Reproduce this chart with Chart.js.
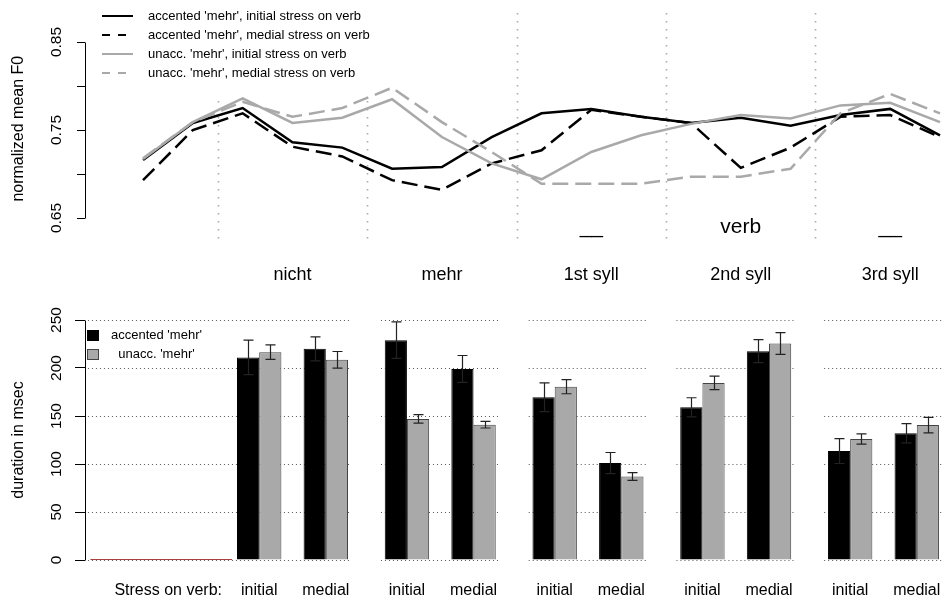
<!DOCTYPE html>
<html>
<head>
<meta charset="utf-8">
<title>F0 and duration of 'nicht mehr' + verb</title>
<script src="https://cdn.jsdelivr.net/npm/chart.js@4/dist/chart.umd.min.js"></script>
<style>
  html, body { margin: 0; padding: 0; background: #fff; }
  #wrap { position: relative; width: 942px; height: 603px; }
  #wrap canvas { position: absolute; left: 0; }
  #f0 { top: 0; }
  #dur { top: 300px; }
</style>
</head>
<body>
<div id="wrap">
  <canvas id="f0" width="942" height="300"></canvas>
  <canvas id="dur" width="942" height="303"></canvas>
</div>
<script>
// ---- data -------------------------------------------------------------
// words of the utterance, shared by both panels
const words = ['nicht', 'mehr', '1st syll', '2nd syll', '3rd syll'];
const stressLabels = ['initial', 'medial'];
const stressTitle = 'Stress on verb:';

// normalized mean F0: two lead-in samples, then three samples per word
const f0AccInitial = [0.716, 0.758, 0.775, 0.736, 0.730, 0.706, 0.708, 0.742, 0.769, 0.774, 0.765, 0.758, 0.764, 0.755, 0.767, 0.774, 0.744];
const f0AccMedial  = [0.693, 0.750, 0.769, 0.731, 0.720, 0.693, 0.682, 0.712, 0.727, 0.773, 0.765, 0.758, 0.707, 0.730, 0.765, 0.767, 0.742];
const f0UnaInitial = [0.717, 0.759, 0.786, 0.758, 0.764, 0.785, 0.742, 0.712, 0.694, 0.725, 0.744, 0.757, 0.767, 0.763, 0.778, 0.781, 0.759];
const f0UnaMedial  = [0.718, 0.759, 0.782, 0.765, 0.775, 0.798, 0.759, 0.725, 0.689, 0.689, 0.689, 0.697, 0.697, 0.706, 0.769, 0.791, 0.769];
const f0Labels = [
  "accented 'mehr', initial stress on verb",
  "accented 'mehr', medial stress on verb",
  "unacc. 'mehr', initial stress on verb",
  "unacc. 'mehr', medial stress on verb"
];
const f0Ticks = [0.65, 0.70, 0.75, 0.80, 0.85];
const f0TickLabels = ['0.65', '', '0.75', '', '0.85'];
const verbMarks = ['__', 'verb', '__'];   // over the three verb syllables
const verbMarkLevel = 0.639;

// durations in ms, word by word: [initial, medial]
const durAccented = [211, 220, 229, 199, 169.5, 101, 159, 217.5, 113.5, 132];
const durUnacc    = [216.5, 208.5, 147, 141, 180.5, 87, 184.5, 225.5, 126, 140.5];
const seAccented  = [18, 12.5, 19, 14, 15, 11, 10, 12, 13, 10];
const seUnacc     = [7.5, 8.7, 4.5, 3.5, 7.3, 4, 7, 11.3, 5.4, 8];
const durLabels   = ["accented 'mehr'", "  unacc. 'mehr'"];
const durTicks    = [0, 50, 100, 150, 200, 250];

// ---- shared look ------------------------------------------------------
Chart.defaults.font.family = "'Liberation Sans', Arial, Helvetica, sans-serif";
Chart.defaults.color = '#000';
const INK = '#000000';
const GREY = '#a9a9a9';
const AXIS_X_LABEL = 56.5;   // centre of the rotated tick labels

// draws an R-style left axis line between the first and last tick plus rotated labels
function drawLeftAxis(chart, ticks, labels) {
  const {ctx, chartArea: a, scales: {y}} = chart;
  ctx.save();
  ctx.strokeStyle = '#000';
  ctx.lineWidth = 1;
  ctx.beginPath();
  const x = Math.round(a.left) + 0.5;
  ctx.moveTo(x, Math.round(y.getPixelForValue(ticks[0])) + 0.5);
  ctx.lineTo(x, Math.round(y.getPixelForValue(ticks[ticks.length - 1])) + 0.5);
  ctx.stroke();
  ctx.fillStyle = '#000';
  ctx.font = "15.5px 'Liberation Sans', Arial, sans-serif";
  ctx.textAlign = 'center';
  ctx.textBaseline = 'middle';
  ticks.forEach((v, i) => {
    if (!labels[i]) return;
    ctx.save();
    ctx.translate(AXIS_X_LABEL, y.getPixelForValue(v));
    ctx.rotate(-Math.PI / 2);
    ctx.fillText(labels[i], 0, 0);
    ctx.restore();
  });
  ctx.restore();
}

// keep the plotting area fixed: no extra side padding for edge labels
function fixHorizontal(height) {
  return s => { s.height = height; s.paddingLeft = 0; s.paddingRight = 0; };
}

// ---- upper panel: F0 contours -----------------------------------------
const LEAD = 2, PER_WORD = 3;
const wordCentre = i => LEAD + PER_WORD * i + 1;
const wordEdge = i => LEAD + PER_WORD * i - 0.5;

const f0Series = [f0AccInitial, f0AccMedial, f0UnaInitial, f0UnaMedial];
const f0Styles = [
  {color: INK, dash: []},
  {color: INK, dash: [16, 7]},
  {color: GREY, dash: []},
  {color: GREY, dash: [16, 7]}
];

const f0Decor = {
  id: 'f0Decor',
  beforeDatasetsDraw(chart) {
    const {ctx, chartArea: a, scales: {x}} = chart;
    ctx.save();
    // dotted word boundaries
    ctx.strokeStyle = '#aaaaaa';
    ctx.lineWidth = 1.6;
    ctx.setLineDash([1.6, 6.4]);
    words.forEach((_, i) => {
      const px = Math.round(x.getPixelForValue(wordEdge(i))) + 0.5;
      ctx.beginPath();
      ctx.moveTo(px, a.top);
      ctx.lineTo(px, a.bottom);
      ctx.stroke();
    });
    ctx.setLineDash([]);
    // legend panel
    ctx.fillStyle = '#fff';
    ctx.fillRect(a.left + 1, 0, 300, 97);
    ctx.font = "13px 'Liberation Sans', Arial, sans-serif";
    ctx.textAlign = 'left';
    ctx.textBaseline = 'middle';
    chart.data.datasets.forEach((ds, i) => {
      const ry = 16 + 19 * i;
      ctx.strokeStyle = ds.borderColor;
      ctx.lineWidth = 2;
      ctx.setLineDash(ds.borderDash.length ? [8, 8] : []);
      ctx.beginPath();
      ctx.moveTo(a.left + 17, ry);
      ctx.lineTo(a.left + 48, ry);
      ctx.stroke();
      ctx.setLineDash([]);
      ctx.fillStyle = '#000';
      ctx.fillText(ds.label, a.left + 63, ry);
    });
    ctx.restore();
  },
  afterDraw(chart) {
    drawLeftAxis(chart, f0Ticks, f0TickLabels);
    const {ctx, scales: {x, y}} = chart;
    ctx.save();
    ctx.fillStyle = '#000';
    ctx.font = "21px 'Liberation Sans', Arial, sans-serif";
    ctx.textAlign = 'center';
    ctx.textBaseline = 'middle';
    verbMarks.forEach((t, j) => {
      ctx.fillText(t, x.getPixelForValue(wordCentre(2 + j)), y.getPixelForValue(verbMarkLevel));
    });
    ctx.restore();
  }
};

new Chart(document.getElementById('f0'), {
  type: 'line',
  data: {
    datasets: f0Series.map((vals, s) => ({
      label: f0Labels[s],
      data: vals.map((v, i) => ({x: i, y: v})),
      borderColor: f0Styles[s].color,
      borderDash: f0Styles[s].dash,
      borderWidth: 2.5,
      pointRadius: 0,
      tension: 0,
      fill: false,
      order: f0Series.length - s
    }))
  },
  options: {
    responsive: false,
    animation: false,
    devicePixelRatio: 1,
    layout: {padding: {top: 13, left: 0, right: 0, bottom: 0}},
    plugins: {legend: {display: false}, tooltip: {enabled: false}},
    scales: {
      x: {
        type: 'linear',
        min: -1.165,
        max: 16.04,
        offset: false,
        grid: {display: false, drawTicks: false},
        border: {display: false},
        afterBuildTicks: s => { s.ticks = words.map((_, i) => ({value: wordCentre(i)})); },
        afterFit: fixHorizontal(55.6),
        ticks: {autoSkip: false, maxRotation: 0, minRotation: 0, padding: 20,
                font: {size: 18}, color: '#000', callback: (v, i) => words[i]}
      },
      y: {
        min: 0.62,
        max: 0.883,
        afterBuildTicks: s => { s.ticks = f0Ticks.map(v => ({value: v})); },
        afterFit: s => { s.width = 85; },
        grid: {drawOnChartArea: false, drawTicks: true, tickLength: 8, color: '#000', lineWidth: 1},
        border: {display: false},
        ticks: {display: false},
        title: {display: true, text: 'normalized mean F0', font: {size: 16}, color: '#000',
                padding: {top: 9, bottom: 0}}
      }
    }
  },
  plugins: [f0Decor]
});

// ---- lower panel: durations -------------------------------------------
const GROUP_PITCH = 6.655;   // word group spacing, in bar widths
const PAIR_GAP = 3;          // initial -> medial pair spacing
const groupStart = g => g * GROUP_PITCH;
const pairCentre = i => groupStart(Math.floor(i / 2)) + (i % 2) * PAIR_GAP + 1;
const STRESS_TITLE_POS = -3.1;

const durDecor = {
  id: 'durDecor',
  beforeDatasetsDraw(chart) {
    const {ctx, chartArea: a, scales: {x, y}} = chart;
    ctx.save();
    // dotted reference lines, one run per word group
    ctx.strokeStyle = '#555';
    ctx.lineWidth = 1;
    ctx.setLineDash([1, 3]);
    words.forEach((_, g) => {
      const from = g === 0 ? groupStart(-1) - 0.06 : groupStart(g) - 0.17;
      const to = groupStart(g) + 5.13;
      durTicks.forEach(v => {
        const py = Math.round(y.getPixelForValue(v)) + 0.5;
        ctx.beginPath();
        ctx.moveTo(x.getPixelForValue(from), py);
        ctx.lineTo(Math.min(x.getPixelForValue(to), a.right), py);
        ctx.stroke();
      });
    });
    ctx.setLineDash([]);
    // legend
    ctx.font = "13px 'Liberation Sans', Arial, sans-serif";
    ctx.textAlign = 'left';
    ctx.textBaseline = 'middle';
    chart.data.datasets.forEach((ds, i) => {
      if (ds.type === 'line') return;
      const ry = a.top + 15.5 + 19 * i;
      ctx.fillStyle = ds.borderColor;
      ctx.fillRect(a.left + 2, ry - 5.5, 12, 11);
      ctx.fillStyle = ds.backgroundColor;
      ctx.fillRect(a.left + 3, ry - 4.5, 10, 9);
      ctx.fillStyle = '#000';
      ctx.fillText(ds.label, a.left + 26, ry);
    });
    ctx.restore();
  },
  afterDatasetsDraw(chart) {
    const {ctx, scales: {y}} = chart;
    ctx.save();
    ctx.strokeStyle = '#222';
    ctx.lineWidth = 1.2;
    [[durAccented, seAccented], [durUnacc, seUnacc]].forEach(([vals, ses], d) => {
      chart.getDatasetMeta(d).data.forEach((bar, i) => {
        const top = y.getPixelForValue(vals[i] + ses[i]);
        const bot = y.getPixelForValue(vals[i] - ses[i]);
        const cx = Math.round(bar.x) + 0.5;
        ctx.beginPath();
        ctx.moveTo(cx, top); ctx.lineTo(cx, bot);
        ctx.moveTo(cx - 5, top); ctx.lineTo(cx + 5, top);
        ctx.moveTo(cx - 5, bot); ctx.lineTo(cx + 5, bot);
        ctx.stroke();
      });
    });
    ctx.restore();
  },
  afterDraw(chart) {
    drawLeftAxis(chart, durTicks, durTicks.map(String));
  }
};

const pairTicks = [STRESS_TITLE_POS].concat(durAccented.map((_, i) => pairCentre(i)));

new Chart(document.getElementById('dur'), {
  type: 'bar',
  data: {
    datasets: [
      {
        label: durLabels[0],
        data: durAccented.map((v, i) => ({x: pairCentre(i), y: v})),
        backgroundColor: INK,
        borderColor: INK,
        borderWidth: 1
      },
      {
        label: durLabels[1],
        data: durUnacc.map((v, i) => ({x: pairCentre(i), y: v})),
        backgroundColor: GREY,
        borderColor: '#444',
        borderWidth: 1
      },
      {
        type: 'line',
        label: 'baseline',
        data: [{x: groupStart(-1) + 0.05, y: 0}, {x: groupStart(0) - 0.22, y: 0}],
        borderColor: '#8b0000',
        borderWidth: 1.5,
        pointRadius: 0
      }
    ]
  },
  options: {
    responsive: false,
    animation: false,
    devicePixelRatio: 1,
    layout: {padding: {top: 20, left: 0, right: 0, bottom: 0}},
    plugins: {legend: {display: false}, tooltip: {enabled: false}},
    datasets: {bar: {categoryPercentage: 2 / 3, barPercentage: 1}},
    scales: {
      x: {
        type: 'linear',
        min: -6.847,
        max: 31.757,
        offset: false,
        grid: {display: false, drawTicks: false, offset: false},
        border: {display: false},
        afterBuildTicks: s => { s.ticks = pairTicks.map(v => ({value: v})); },
        afterFit: fixHorizontal(43),
        ticks: {autoSkip: false, maxRotation: 0, minRotation: 0, padding: 21,
                font: {size: 16}, color: '#000',
                callback: (v, i) => i === 0 ? stressTitle : stressLabels[(i - 1) % 2]}
      },
      y: {
        min: 0,
        max: 250,
        afterBuildTicks: s => { s.ticks = durTicks.map(v => ({value: v})); },
        afterFit: s => { s.width = 85; },
        grid: {drawOnChartArea: false, drawTicks: true, tickLength: 10, color: '#000', lineWidth: 1},
        border: {display: false},
        ticks: {display: false},
        title: {display: true, text: 'duration in msec', font: {size: 16}, color: '#000',
                padding: {top: 9, bottom: 0}}
      }
    }
  },
  plugins: [durDecor]
});
</script>
</body>
</html>
